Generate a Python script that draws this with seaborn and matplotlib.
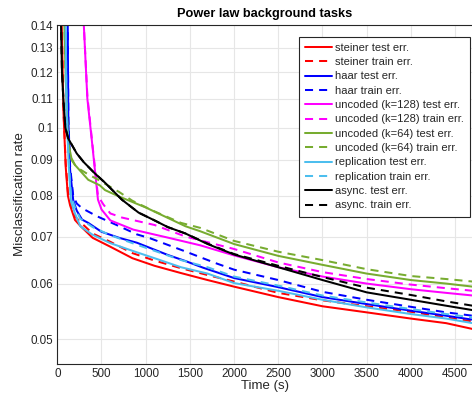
import numpy as np
import pandas as pd
import matplotlib
matplotlib.use("Agg")
import matplotlib.pyplot as plt
from matplotlib.ticker import FixedLocator, FixedFormatter, NullLocator
import seaborn as sns

# ---- data: time (s) and misclassification rate per scheme ----
steiner_test_t = [44, 50, 70, 95, 120, 145, 200, 260, 400, 600, 850, 1100, 1400, 1700, 2000, 2500, 3000, 3500, 4000, 4400, 4700]
steiner_test = [0.15, 0.14, 0.105, 0.088, 0.080, 0.0775, 0.0739, 0.0725, 0.0697, 0.0677, 0.0652, 0.0636, 0.0621, 0.0607, 0.0594, 0.0574, 0.0557, 0.0546, 0.0535, 0.0527, 0.0517]
steiner_train_t = [44, 50, 70, 95, 120, 145, 200, 260, 400, 600, 850, 1100, 1400, 1700, 2000, 2500, 3000, 3500, 4000, 4400, 4700]
steiner_train = [0.15, 0.14, 0.106, 0.089, 0.081, 0.0785, 0.0748, 0.0734, 0.0707, 0.0688, 0.0663, 0.0647, 0.0631, 0.0617, 0.0604, 0.0582, 0.0568, 0.0557, 0.0547, 0.0537, 0.0530]

haar_test_t = [114, 118, 125, 145, 180, 220, 280, 350, 500, 700, 900, 1250, 1450, 1650, 2000, 2500, 3000, 3500, 4000, 4400, 4700]
haar_test = [0.15, 0.14, 0.102, 0.087, 0.0789, 0.0762, 0.0740, 0.0732, 0.0711, 0.0697, 0.0686, 0.0659, 0.0646, 0.0632, 0.0611, 0.0593, 0.0574, 0.0561, 0.0549, 0.0540, 0.0533]
haar_train_t = [114, 118, 125, 145, 180, 220, 280, 450, 670, 900, 1050, 1430, 1800, 2000, 2500, 3000, 3500, 4000, 4400, 4700]
haar_train = [0.15, 0.14, 0.103, 0.088, 0.0800, 0.0780, 0.0768, 0.0748, 0.0727, 0.0705, 0.0696, 0.0668, 0.0641, 0.0628, 0.0607, 0.0584, 0.0569, 0.0556, 0.0546, 0.0540]

unc128_test_t = [295, 300, 340, 400, 460, 500, 600, 860, 1240, 1620, 2000, 2500, 3000, 3500, 4000, 4400, 4700]
unc128_test = [0.15, 0.14, 0.110, 0.0935, 0.0790, 0.0765, 0.0738, 0.0716, 0.0698, 0.0680, 0.0658, 0.0633, 0.0614, 0.0600, 0.0589, 0.0582, 0.0577]
unc128_train_t = [295, 300, 340, 400, 460, 520, 600, 730, 1100, 1450, 2000, 2500, 3000, 3500, 4000, 4400, 4700]
unc128_train = [0.15, 0.14, 0.111, 0.094, 0.0800, 0.0778, 0.0755, 0.0745, 0.0727, 0.0700, 0.0672, 0.0643, 0.0623, 0.0609, 0.0598, 0.0591, 0.0586]

unc64_test_t = [76, 80, 100, 115, 125, 160, 200, 260, 350, 480, 540, 700, 1000, 1450, 1620, 2000, 2500, 3000, 3500, 4000, 4400, 4700]
unc64_test = [0.15, 0.14, 0.112, 0.100, 0.095, 0.0905, 0.0885, 0.0868, 0.0843, 0.0828, 0.0815, 0.0798, 0.0770, 0.0724, 0.0712, 0.0683, 0.0657, 0.0638, 0.0620, 0.0607, 0.0600, 0.0594]
unc64_train_t = [76, 80, 100, 115, 125, 160, 200, 260, 350, 450, 540, 700, 850, 1100, 1400, 1620, 2000, 2500, 3000, 3500, 4000, 4400, 4700]
unc64_train = [0.15, 0.14, 0.112, 0.100, 0.095, 0.0900, 0.0885, 0.0872, 0.0858, 0.0845, 0.0832, 0.0810, 0.0787, 0.0760, 0.0732, 0.0720, 0.0690, 0.0666, 0.0648, 0.0629, 0.0615, 0.0609, 0.0604]

repl_test_t = [90, 95, 105, 130, 155, 200, 260, 400, 600, 850, 1100, 1400, 1700, 2000, 2500, 3000, 3500, 4000, 4400, 4700]
repl_test = [0.15, 0.14, 0.105, 0.088, 0.0785, 0.0755, 0.0724, 0.0704, 0.0685, 0.0668, 0.0652, 0.0633, 0.0620, 0.0601, 0.0586, 0.0569, 0.0555, 0.0543, 0.0535, 0.0527]
repl_train_t = [90, 95, 105, 130, 155, 200, 260, 400, 600, 850, 1100, 1400, 1700, 2000, 2500, 3000, 3500, 4000, 4400, 4700]
repl_train = [0.15, 0.14, 0.106, 0.089, 0.080, 0.0770, 0.0742, 0.0722, 0.0703, 0.0685, 0.0668, 0.0648, 0.0633, 0.0614, 0.0596, 0.0577, 0.0564, 0.0552, 0.0543, 0.0537]

async_test_t = [38, 42, 53, 68, 91, 124, 220, 300, 420, 540, 730, 920, 1100, 1250, 1450, 1700, 2000, 2500, 3000, 3500, 4000, 4400, 4700]
async_test = [0.15, 0.14, 0.120, 0.110, 0.100, 0.0965, 0.0919, 0.0893, 0.0862, 0.0835, 0.0790, 0.0757, 0.0738, 0.0722, 0.0707, 0.0683, 0.0660, 0.0633, 0.0607, 0.0583, 0.0569, 0.0558, 0.0550]
async_train_t = [38, 42, 53, 68, 91, 124, 220, 300, 420, 540, 730, 920, 1100, 1250, 1450, 1700, 2000, 2500, 3000, 3500, 4000, 4400, 4700]
async_train = [0.15, 0.14, 0.120, 0.110, 0.100, 0.0965, 0.0919, 0.0893, 0.0862, 0.0835, 0.0790, 0.0757, 0.0738, 0.0722, 0.0707, 0.0684, 0.0661, 0.0636, 0.0613, 0.0592, 0.0578, 0.0566, 0.0558]

y_ticks = [0.05, 0.06, 0.07, 0.08, 0.09, 0.1, 0.11, 0.12, 0.13, 0.14]
y_tick_labels = ["0.05", "0.06", "0.07", "0.08", "0.09", "0.1", "0.11", "0.12", "0.13", "0.14"]
x_ticks = [0, 500, 1000, 1500, 2000, 2500, 3000, 3500, 4000, 4500]

series = [
    ("steiner test err.", steiner_test_t, steiner_test, "#ff0000", "-"),
    ("steiner train err.", steiner_train_t, steiner_train, "#ff0000", "--"),
    ("haar test err.", haar_test_t, haar_test, "#0000ff", "-"),
    ("haar train err.", haar_train_t, haar_train, "#0000ff", "--"),
    ("uncoded (k=128) test err.", unc128_test_t, unc128_test, "#ff00ff", "-"),
    ("uncoded (k=128) train err.", unc128_train_t, unc128_train, "#ff00ff", "--"),
    ("uncoded (k=64) test err.", unc64_test_t, unc64_test, "#77ac30", "-"),
    ("uncoded (k=64) train err.", unc64_train_t, unc64_train, "#77ac30", "--"),
    ("replication test err.", repl_test_t, repl_test, "#4dbeee", "-"),
    ("replication train err.", repl_train_t, repl_train, "#4dbeee", "--"),
    ("async. test err.", async_test_t, async_test, "#000000", "-"),
    ("async. train err.", async_train_t, async_train, "#000000", "--"),
]

sns.set_theme(style="white")
plt.rcParams["font.family"] = ["Liberation Sans", "DejaVu Sans"]
axis_grey = "#262626"

fig = plt.figure(figsize=(4.72, 4.0), dpi=100)
ax = fig.add_axes([57.3 / 472, 1 - 364 / 400, 1 - 57.3 / 472, (364 - 25) / 400])

for label, t, v, color, ls in series:
    df = pd.DataFrame({"t": t, "err": v})
    sns.lineplot(data=df, x="t", y="err", ax=ax, color=color, linestyle=ls,
                 linewidth=1.45, label=label, sort=False, estimator=None,
                 dashes=False)
for line in ax.get_lines():
    if line.get_linestyle() == "--":
        line.set_dashes((4, 3))

ax.set_yscale("log")
ax.set_xlim(0, 4692)
ax.set_ylim(0.0461, 0.14)
ax.yaxis.set_major_locator(FixedLocator(y_ticks))
ax.yaxis.set_major_formatter(FixedFormatter(y_tick_labels))
ax.yaxis.set_minor_locator(NullLocator())
ax.set_xticks(x_ticks)
ax.set_xticklabels([str(x) for x in x_ticks])

ax.grid(True, color="#e6e6e6", linewidth=0.8)
ax.set_axisbelow(True)
ax.tick_params(axis="both", direction="in", length=3.5, width=0.8,
               colors=axis_grey, labelsize=8.4, pad=3)
for side in ("left", "bottom", "top"):
    ax.spines[side].set_color(axis_grey)
    ax.spines[side].set_linewidth(0.8)
ax.spines["right"].set_visible(False)

ax.set_xlabel("Time (s)", fontsize=9.5, color=axis_grey, labelpad=0)
ax.set_ylabel("Misclassification rate", fontsize=9.6, color=axis_grey, labelpad=3)
ax.set_title("Power law background tasks", fontsize=9.2, fontweight="bold",
             color="black", pad=6)

leg = ax.legend(loc="upper right", bbox_to_anchor=(470 / 472, 1 - 36.7 / 400),
                bbox_transform=fig.transFigure, borderaxespad=0, fontsize=8,
                frameon=True, fancybox=False, framealpha=1, edgecolor="#262626",
                handlelength=2.4, handletextpad=0.3, labelspacing=0.39,
                borderpad=0.55)
leg.get_frame().set_linewidth(0.8)
for txt in leg.get_texts():
    txt.set_color(axis_grey)

fig.savefig("out.png", dpi=100)
